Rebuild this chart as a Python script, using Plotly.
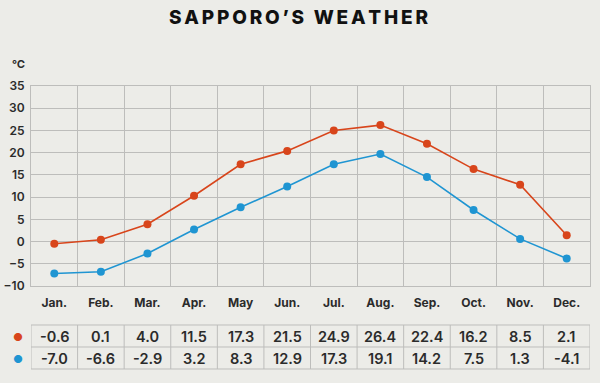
import plotly.graph_objects as go

months = ["Jan.", "Feb.", "Mar.", "Apr.", "May", "Jun.", "Jul.", "Aug.", "Sep.", "Oct.", "Nov.", "Dec."]
# plotted points (as drawn in the chart)
high_plot = [-0.5, 0.4, 3.9, 10.3, 17.4, 20.4, 25.0, 26.2, 22.0, 16.3, 12.8, 1.4]
low_plot = [-7.2, -6.8, -2.7, 2.7, 7.7, 12.4, 17.4, 19.7, 14.5, 7.1, 0.6, -3.8]
# table values
high_table = [-0.6, 0.1, 4.0, 11.5, 17.3, 21.5, 24.9, 26.4, 22.4, 16.2, 8.5, 2.1]
low_table = [-7.0, -6.6, -2.9, 3.2, 8.3, 12.9, 17.3, 19.1, 14.2, 7.5, 1.3, -4.1]

RED = "#D8451B"
BLUE = "#1F95D2"
BG = "#ECECE8"
GRID = "#BDBDBB"
TXT = "#2B2B2B"
FONT = "Inter"

L, R, T, B = 31, 590, 86, 286
W, H = 600, 383

xs = list(range(len(months)))

fig = go.Figure()
fig.add_trace(go.Scatter(x=xs, y=high_plot, mode="lines+markers",
                         line=dict(color=RED, width=1.6), marker=dict(color=RED, size=8),
                         showlegend=False, hoverinfo="skip"))
fig.add_trace(go.Scatter(x=xs, y=low_plot, mode="lines+markers",
                         line=dict(color=BLUE, width=1.6), marker=dict(color=BLUE, size=8),
                         showlegend=False, hoverinfo="skip"))

fig.update_layout(
    width=W, height=H,
    margin=dict(l=L, r=W - R, t=T, b=H - B, autoexpand=False),
    paper_bgcolor=BG, plot_bgcolor=BG,
    font=dict(family=FONT, color=TXT),
)
fig.update_xaxes(
    range=[-0.5, 11.5], tickvals=xs, ticktext=months, automargin=False,
    showgrid=False, zeroline=False,
    minor=dict(tick0=0.5, dtick=1, showgrid=True, gridcolor=GRID, gridwidth=1),
    showline=True, mirror=True, linecolor=GRID, linewidth=1,
    ticks="outside", ticklen=6, tickcolor="rgba(0,0,0,0)",
    tickfont=dict(size=12, family=FONT, color=TXT, weight="bold"),
)
fig.update_yaxes(
    range=[-10, 35], dtick=5, tick0=-10, automargin=False,
    showgrid=True, gridcolor=GRID, gridwidth=1, zeroline=False,
    showline=True, mirror=True, linecolor=GRID, linewidth=1,
    ticks="outside", ticklen=3, tickcolor="rgba(0,0,0,0)",
    tickfont=dict(size=12, family=FONT, color=TXT, weight=600),
)


def px_to_paper(px, py):
    return (px - L) / (R - L), (B - py) / (B - T)


# Table
_, y_top = px_to_paper(0, 325)
_, y_mid = px_to_paper(0, 347)
_, y_bot = px_to_paper(0, 369)
shapes = []
for yv in (y_top, y_mid, y_bot):
    shapes.append(dict(type="line", xref="x", yref="paper", x0=-0.5, x1=11.5, y0=yv, y1=yv,
                       line=dict(color=GRID, width=1)))
for i in range(len(months) + 1):
    shapes.append(dict(type="line", xref="x", yref="paper", x0=i - 0.5, x1=i - 0.5, y0=y_top, y1=y_bot,
                       line=dict(color=GRID, width=1)))
fig.update_layout(shapes=shapes)

C = dict(xanchor="center", yanchor="middle", showarrow=False)
anns = []
for i, (h, l) in enumerate(zip(high_table, low_table)):
    anns.append(dict(x=i, y=(y_top + y_mid) / 2, xref="x", yref="paper", text=f"{h:.1f}",
                     font=dict(size=14.5, family=FONT, color=TXT, weight=600), **C))
    anns.append(dict(x=i, y=(y_mid + y_bot) / 2, xref="x", yref="paper", text=f"{l:.1f}",
                     font=dict(size=14.5, family=FONT, color=TXT, weight=600), **C))
# legend dots
dx, dy = px_to_paper(18, 337)
anns.append(dict(x=dx, y=dy, xref="paper", yref="paper", text="●",
                 font=dict(size=11, color=RED), **C))
dx, dy = px_to_paper(18, 359)
anns.append(dict(x=dx, y=dy, xref="paper", yref="paper", text="●",
                 font=dict(size=11, color=BLUE), **C))
fx, fy = px_to_paper(18, 64)
anns.append(dict(x=fx, y=fy, xref="paper", yref="paper", text="℃",
                 font=dict(size=11, family=FONT, color=TXT, weight="bold"), **C))
tx, ty = px_to_paper(298, 18)
title = "\u2009".join("SAPPORO’S") + "\u2002" + "\u2009".join("WEATHER")
anns.append(dict(x=tx, y=ty, xref="paper", yref="paper", text=title,
                 font=dict(size=19, family=FONT, color="#111111", weight=800), **C))
fig.update_layout(annotations=anns)

fig.write_html("out.html", config={"displayModeBar": False},
               post_script="document.body.style.margin='0';document.body.style.overflow='hidden';")
